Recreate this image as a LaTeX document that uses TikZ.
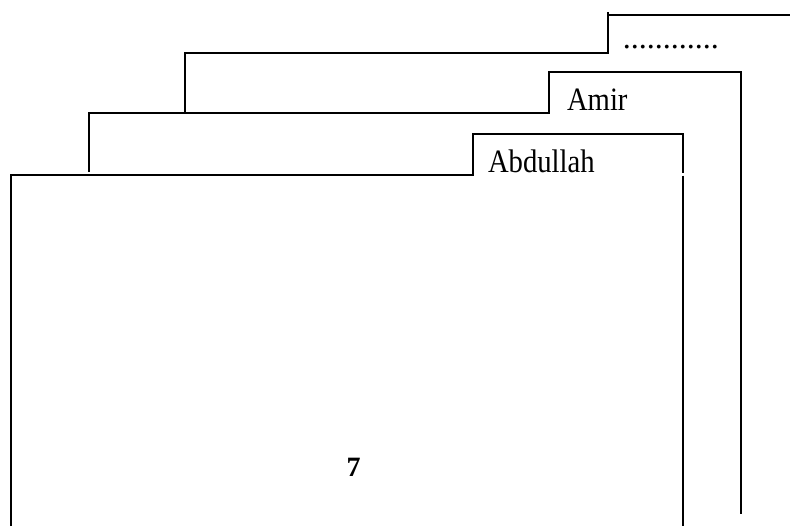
\documentclass[tikz,border=0pt]{standalone}
\usepackage{fontspec}
\usepackage{graphicx}
\setmainfont{Liberation Serif}
\newcommand{\tallbox}[1]{\scalebox{1}[1.14]{#1}}
\begin{document}
\begin{tikzpicture}[x=0.75pt,y=-0.75pt,
  tabline/.style={line width=1.1pt,line cap=butt,line join=miter},
  tablabel/.style={anchor=base west,inner sep=0pt,outer sep=0pt,
    font=\fontsize{21.5}{24}\selectfont}]
\useasboundingbox (0,0) rectangle (790,526);
% corners
\coordinate (d1) at (185,113);
\coordinate (d2) at (185,53);
\coordinate (d3) at (608,53);
\coordinate (d4) at (608,12);
\coordinate (d5) at (608,15);
\coordinate (d6) at (790,15);
\coordinate (a1) at (89,172);
\coordinate (a2) at (89,113);
\coordinate (a3) at (549,113);
\coordinate (a4) at (549,72);
\coordinate (a5) at (741,72);
\coordinate (a6) at (741,514);
\coordinate (b1) at (11,526);
\coordinate (b2) at (11,175);
\coordinate (b3) at (473,175);
\coordinate (b4) at (473,134);
\coordinate (b5) at (683,134);
\coordinate (b6) at (683,172.5);
\coordinate (b7) at (683,175.5);
\coordinate (b8) at (683,526);
% tabs
\draw[tabline] (d1) -- (d2) -- (d3) -- (d4);
\draw[tabline] (d5) -- (d6);
\draw[tabline] (a1) -- (a2) -- (a3) -- (a4) -- (a5) -- (a6);
\draw[tabline] (b1) -- (b2) -- (b3) -- (b4) -- (b5) -- (b6);
\draw[tabline] (b7) -- (b8);
% labels
\node[anchor=base west,inner sep=0pt,font=\fontsize{24}{26}\selectfont] (dots) at (622.7,48) {............};
\node[tablabel] (amir) at (567,110) {\tallbox{Amir}};
\node[tablabel] (abdullah) at (488,172) {\tallbox{Abdullah}};
\node[inner sep=0pt,font=\fontsize{21}{23}\selectfont\bfseries] (seven) at (353.5,467) {7};
\end{tikzpicture}
\end{document}
